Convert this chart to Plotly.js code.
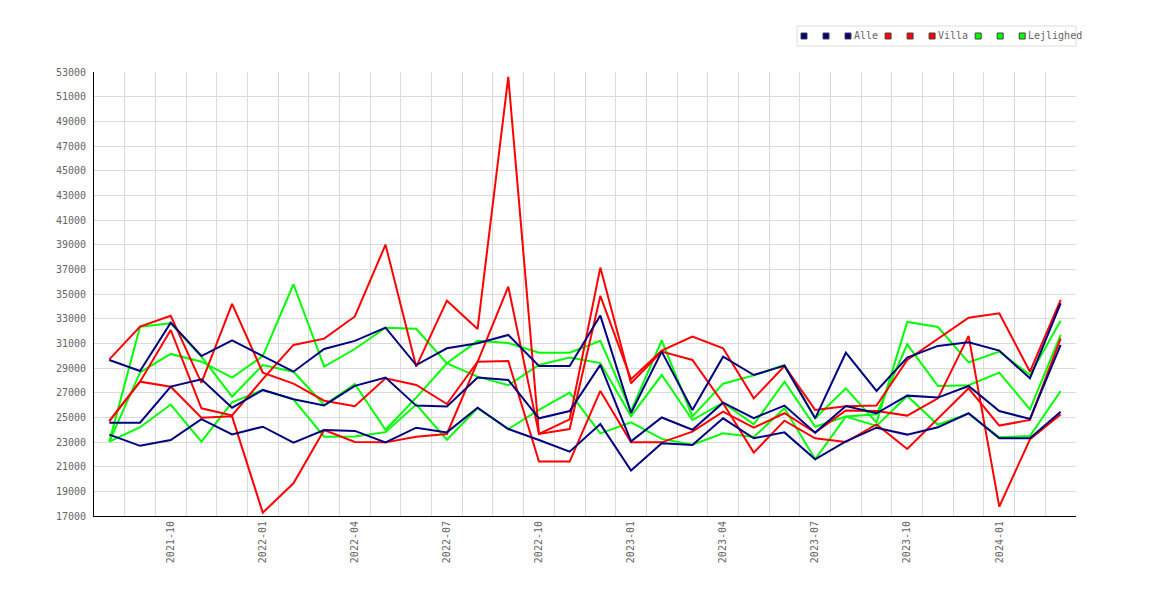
<!DOCTYPE html>
<html>
<head>
<meta charset="utf-8">
<script src="https://cdn.plot.ly/plotly-3.0.1.min.js"></script>
<style>
body { margin: 0; background: #fff; }
#chart { width: 1170px; height: 600px; }
</style>
</head>
<body>
<div id="chart"></div>
<script>
// months on the x axis
const months = [
    '2021-08', '2021-09', '2021-10', '2021-11', '2021-12',
    '2022-01', '2022-02', '2022-03', '2022-04', '2022-05', '2022-06',
    '2022-07', '2022-08', '2022-09', '2022-10', '2022-11', '2022-12',
    '2023-01', '2023-02', '2023-03', '2023-04', '2023-05', '2023-06',
    '2023-07', '2023-08', '2023-09', '2023-10', '2023-11', '2023-12',
    '2024-01', '2024-02', '2024-03'
];
const tickMonths = ['2021-10', '2022-01', '2022-04', '2022-07', '2022-10',
    '2023-01', '2023-04', '2023-07', '2023-10', '2024-01'];

// Alle
const alle1 = [29650, 28760, 32680, 29970, 31240, 29970, 28700, 30540, 31200, 32270, 29240, 30600,
    31000, 31680, 29160, 29160, 33250, 25350, 30330, 25600, 29920, 28430, 29190, 24920,
    30240, 27140, 29840, 30790, 31080, 30410, 28160, 34250];
const alle2 = [24570, 24570, 27490, 28080, 25780, 27220, 26460, 25970, 27550, 28220, 25950, 25870,
    28220, 28030, 24920, 25510, 29250, 23050, 24990, 23990, 26190, 24940, 25950, 23760,
    25920, 25330, 26760, 26600, 27540, 25510, 24870, 30870];
const alle3 = [23600, 22690, 23160, 24860, 23620, 24240, 22940, 23970, 23900, 22970, 24160, 23780,
    25780, 24050, 23160, 22220, 24450, 20680, 22890, 22760, 24920, 23300, 23780, 21600,
    23050, 24160, 23600, 24190, 25330, 23300, 23300, 25460];

// Villa
const villa1 = [29700, 32350, 33240, 27800, 34200, 28620, 27730, 26350, 25900, 28160, 27620, 26080,
    29510, 29570, 21410, 21410, 27140, 22970, 22970, 23840, 25460, 24160, 25330, 23760,
    25550, 25510, 25140, 26540, 31600, 17760, 23220, 25240];
const villa2 = [24700, 27890, 32080, 25730, 25150, 28100, 30870, 31380, 33180, 39000, 29110, 34460,
    32160, 52600, 23650, 24840, 37140, 27760, 30330, 29650, 26140, 22140, 24730, 23300,
    23000, 24430, 22430, 24870, 27350, 24330, 24790, 31410];
const villa3 = [24700, 27890, 27480, 24970, 25080, 17270, 19650, 23970, 23000, 22970, 23430, 23650,
    29500, 35600, 23650, 24050, 34840, 28080, 30410, 31540, 30600, 26540, 29160, 25600,
    25900, 25950, 29650, 31330, 33080, 33430, 28700, 34520];

// Lejlighed
const lejl1 = [23030, 32350, 32620, 29920, 26680, 29240, 28700, 26000, 27700, 23990, 26600, 29380,
    31200, 31020, 30240, 30240, 31200, 25500, 31230, 25080, 27730, 28400, 29240, 24920,
    27350, 24570, 32730, 32320, 29460, 30330, 28430, 32840];
const lejl2 = [23030, 28650, 30140, 29510, 28220, 29970, 35790, 29110, 30540, 32260, 32180, 29380,
    28300, 27600, 29240, 29840, 29400, 25100, 28430, 24780, 26190, 24430, 27890, 24240,
    25060, 25240, 30920, 27540, 27600, 28620, 25650, 31680];
const lejl3 = [23030, 24200, 26040, 23030, 26220, 27220, 26460, 23430, 23450, 23800, 26030, 23180,
    25750, 24040, 25600, 27000, 23700, 24600, 23250, 22780, 23700, 23400, 25730, 21600,
    25060, 24300, 26730, 24400, 25300, 23380, 23490, 27140];

const NAVY = '#000080', RED = '#ff0000', GREEN = '#00ff00';
const FONT = 'DejaVu Sans Mono, monospace';
const TEXT = '#666666';

// legend order as in the picture
const legendItems = [
    {label: '', color: NAVY}, {label: '', color: NAVY}, {label: 'Alle', color: NAVY},
    {label: '', color: RED}, {label: '', color: RED}, {label: 'Villa', color: RED},
    {label: '', color: GREEN}, {label: '', color: GREEN}, {label: 'Lejlighed', color: GREEN}
];

// drawing order: green at the bottom, navy on top
const series = [
    {name: 'Lejlighed', y: lejl1, color: GREEN},
    {name: 'Lejlighed', y: lejl2, color: GREEN},
    {name: 'Lejlighed', y: lejl3, color: GREEN},
    {name: 'Villa', y: villa1, color: RED},
    {name: 'Villa', y: villa2, color: RED},
    {name: 'Villa', y: villa3, color: RED},
    {name: 'Alle', y: alle1, color: NAVY},
    {name: 'Alle', y: alle2, color: NAVY},
    {name: 'Alle', y: alle3, color: NAVY}
];

const traces = series.map(s => ({
    x: months,
    y: s.y,
    name: s.name,
    type: 'scatter',
    mode: 'lines',
    line: {color: s.color, width: 2},
    showlegend: false,
    hoverinfo: 'x+y+name'
}));

// plot area in pixels: x 94..1076, y 72..516
const L = 94, R = 1076, T = 72, B = 516;
const px = p => (p - L) / (R - L);
const py = p => (B - p) / (B - T);

// hand drawn legend box, squares and labels
const shapes = [{
    type: 'rect', xref: 'paper', yref: 'paper',
    x0: px(797), x1: px(1076), y0: py(46), y1: py(26),
    line: {color: '#dcdcdc', width: 1}, fillcolor: '#fff', layer: 'above'
}];
const annotations = [];
let lx = 801;
legendItems.forEach(item => {
    shapes.push({
        type: 'rect', xref: 'paper', yref: 'paper',
        x0: px(lx), x1: px(lx + 6), y0: py(39), y1: py(33),
        line: {color: '#444', width: 1}, fillcolor: item.color, layer: 'above'
    });
    if (item.label) {
        annotations.push({
            xref: 'paper', yref: 'paper', x: px(lx + 8), y: py(36),
            xanchor: 'left', yanchor: 'middle', showarrow: false,
            text: item.label, borderpad: 0,
            font: {family: FONT, size: 10, color: TEXT}
        });
        lx += 9 + item.label.length * 6.02 + 7;
    } else {
        lx += 22;
    }
});

const layout = {
    width: 1170,
    height: 600,
    margin: {l: L, r: 1170 - R, t: T, b: 600 - B},
    paper_bgcolor: '#fff',
    plot_bgcolor: '#fff',
    font: {family: FONT, size: 10, color: TEXT},
    showlegend: false,
    xaxis: {
        type: 'category',
        range: [-0.5, months.length - 0.5],
        tickmode: 'array',
        tickvals: months,
        ticktext: months.map(m => tickMonths.includes(m) ? m : ''),
        tickson: 'boundaries',
        ticks: '',
        tickangle: -90,
        showgrid: true,
        gridcolor: '#dadada',
        gridwidth: 1,
        showline: true,
        linecolor: '#000',
        linewidth: 1,
        zeroline: false,
        tickfont: {family: FONT, size: 10, color: TEXT}
    },
    yaxis: {
        range: [17000, 53000],
        tickmode: 'linear',
        tick0: 17000,
        dtick: 2000,
        tickformat: 'd',
        showgrid: true,
        gridcolor: '#dadada',
        gridwidth: 1,
        showline: true,
        linecolor: '#000',
        linewidth: 1,
        zeroline: false,
        ticks: '',
        ticklabelstandoff: 5,
        tickfont: {family: FONT, size: 10, color: TEXT}
    },
    shapes: shapes,
    annotations: annotations
};

Plotly.newPlot('chart', traces, layout, {displayModeBar: false, staticPlot: true});
</script>
</body>
</html>
